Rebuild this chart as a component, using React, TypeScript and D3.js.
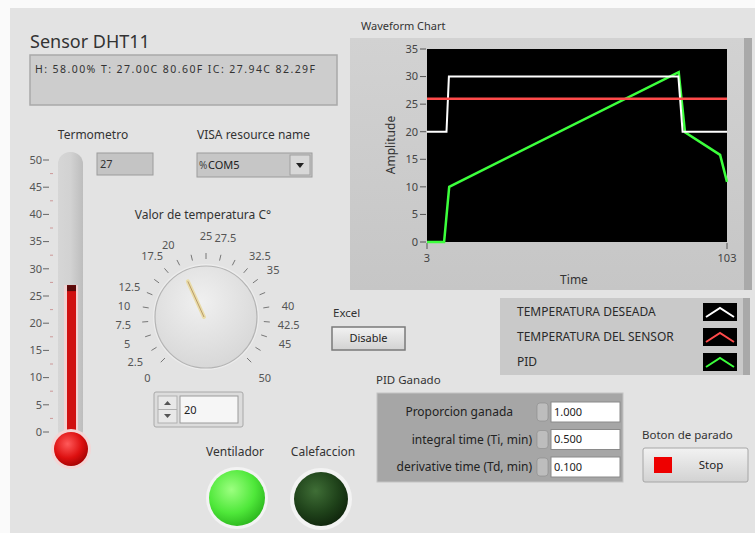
import React from "react";
import * as d3 from "d3";

// ---- data ----
const sensorText = "H: 58.00%  T: 27.00C 80.60F  IC: 27.94C 82.29F";
const thermoValue = 27;
const thermoTicks = [0, 5, 10, 15, 20, 25, 30, 35, 40, 45, 50];
const knobValue = 20;
const knobLabels = [0, 2.5, 5, 7.5, 10, 12.5, 17.5, 20, 25, 27.5, 32.5, 35, 40, 42.5, 45, 50];
const knobTicks = d3.range(0, 50.01, 2.5);

const ampTicks = [0, 5, 10, 15, 20, 25, 30, 35];
const timeTicks = [3, 103];
const desiredTime = [3, 9.5, 10.3, 86.8, 88.2, 103];
const desiredTemp = [20, 20, 30, 30, 20, 20];
const sensorTime = [3, 103];
const sensorTemp = [26, 26];
const pidTime = [3, 8.7, 10.4, 86.9, 89, 100.7, 103];
const pidOut = [0, 0, 10, 30.8, 19.9, 15.8, 10.9];

const legendNames = ["TEMPERATURA DESEADA", "TEMPERATURA DEL SENSOR", "PID"];
const legendColors = ["#ffffff", "#ff4b4b", "#3cff3c"];

const pidLabels = ["Proporcion ganada", "integral time (Ti, min)", "derivative time (Td, min)"];
const pidValues = ["1.000", "0.500", "0.100"];

const FONT = "'Noto Sans', 'Open Sans', sans-serif";
const TXT = "#333";

function Thermometer() {
  const y = d3.scaleLinear().domain([0, 50]).range([432, 160]);
  const minor = d3.range(2.5, 50, 5);
  return (
    <g>
      <text x={93} y={139} textAnchor="middle" fontSize={12} fill={TXT}>Termometro</text>
      <rect x={58} y={152} width={25} height={290} rx={12} fill="url(#tube)" />
      <rect x={64} y={y(thermoValue)} width={14} height={440 - y(thermoValue)} fill="#f2d2d2" />
      <rect x={67} y={y(thermoValue)} width={9} height={440 - y(thermoValue)} fill="#d01010" />
      <rect x={67} y={y(thermoValue)} width={9} height={6} fill="#5a0a0a" />
      <circle cx={71} cy={449} r={20} fill="#f3d6d6" />
      <circle cx={71} cy={449} r={17} fill="url(#bulb)" />
      {thermoTicks.map((t) => (
        <g key={t}>
          <text x={42} y={y(t)} dy="0.35em" textAnchor="end" fontSize={11} fill="#555">{t}</text>
          <line x1={43} x2={49} y1={y(t)} y2={y(t)} stroke="#666" />
        </g>
      ))}
      {minor.map((t) => (
        <line key={t} x1={50} x2={53} y1={y(t)} y2={y(t)} stroke="#c99" />
      ))}
    </g>
  );
}

function Knob() {
  const cx = 206, cy = 317;
  const ang = d3.scaleLinear().domain([0, 50]).range([225, -45]);
  const pt = (v: number, r: number) => {
    const a = (ang(v) * Math.PI) / 180;
    return [cx + r * Math.cos(a), cy - r * Math.sin(a)];
  };
  const [nx, ny] = pt(knobValue, 40);
  return (
    <g>
      <text x={203} y={219} textAnchor="middle" fontSize={12} fill={TXT}>Valor de temperatura C°</text>
      {knobTicks.map((t) => {
        const [x1, y1] = pt(t, 58);
        const [x2, y2] = pt(t, 64);
        return <line key={t} x1={x1} y1={y1} x2={x2} y2={y2} stroke="#777" />;
      })}
      {knobLabels.map((t) => {
        const [x, yy] = pt(t, 83);
        return (
          <text key={t} x={x} y={yy + 2} dy="0.35em" textAnchor="middle" fontSize={11} fill="#555">{t}</text>
        );
      })}
      <circle cx={cx} cy={cy} r={53} fill="#ececec" />
      <circle cx={cx} cy={cy} r={51} fill="url(#knob)" stroke="#b4b4b4" strokeWidth={1.2} />
      <line x1={cx - 2} y1={cy} x2={nx} y2={ny} stroke="#eadca8" strokeWidth={4} strokeLinecap="round" />
      <line x1={cx - 2} y1={cy} x2={nx} y2={ny} stroke="#b89a6a" strokeWidth={1} />
      {/* numeric control */}
      <rect x={154} y={392} width={89} height={35} rx={2} fill="#dcdcdc" stroke="#a8a8a8" />
      <rect x={158} y={396} width={19} height={27} fill="#e8e8e8" stroke="#b0b0b0" />
      <line x1={158} x2={177} y1={409.5} y2={409.5} stroke="#b0b0b0" />
      <path d="M164,405 L167.5,401 L171,405 Z" fill="#555" />
      <path d="M164,414 L167.5,418 L171,414 Z" fill="#555" />
      <rect x={180} y={396} width={58} height={27} fill="#f6f6f6" stroke="#9a9a9a" />
      <text x={184} y={410} dy="0.35em" fontSize={11} fill="#222">{knobValue}</text>
    </g>
  );
}

function Chart() {
  const x = d3.scaleLinear().domain([3, 103]).range([427, 727]);
  const y = d3.scaleLinear().domain([0, 35]).range([242, 49]);
  const line = d3.line<[number, number]>().x((d) => x(d[0])).y((d) => y(d[1]));
  const zip = (a: number[], b: number[]) => a.map((v, i) => [v, b[i]] as [number, number]);
  return (
    <g>
      <text x={361} y={30} fontSize={11} fill={TXT}>Waveform Chart</text>
      <rect x={350} y={38} width={402} height={252} fill="url(#frame)" />
      <rect x={744} y={38} width={8} height={252} fill="#a9a9a9" />
      <rect x={427} y={49} width={300} height={193} fill="#000" />
      {ampTicks.map((t) => (
        <g key={t}>
          <text x={418} y={y(t)} dy="0.35em" textAnchor="end" fontSize={11} fill="#444">{t}</text>
          <line x1={420} x2={426} y1={y(t)} y2={y(t)} stroke="#555" />
        </g>
      ))}
      {timeTicks.map((t) => (
        <g key={t}>
          <line x1={x(t)} x2={x(t)} y1={243} y2={249} stroke="#555" />
          <text x={x(t)} y={258} dy="0.35em" textAnchor="middle" fontSize={11} fill="#444">{t}</text>
        </g>
      ))}
      <text transform="translate(395,145) rotate(-90)" textAnchor="middle" fontSize={12} fill={TXT}>Amplitude</text>
      <text x={574} y={284} textAnchor="middle" fontSize={12} fill={TXT}>Time</text>
      <path d={line(zip(pidTime, pidOut)) || ""} fill="none" stroke={legendColors[2]} strokeWidth={2.5} />
      <path d={line(zip(desiredTime, desiredTemp)) || ""} fill="none" stroke={legendColors[0]} strokeWidth={2} />
      <path d={line(zip(sensorTime, sensorTemp)) || ""} fill="none" stroke={legendColors[1]} strokeWidth={2.5} />
    </g>
  );
}

function Legend() {
  return (
    <g>
      <rect x={500} y={298} width={250} height={77} fill="#c9c9c9" />
      <rect x={743} y={298} width={7} height={77} fill="#a9a9a9" />
      {legendNames.map((n, i) => {
        const ry = 303 + i * 25;
        return (
          <g key={n}>
            <text x={517} y={ry + 9} dy="0.35em" fontSize={12} fill="#2a2a2a">{n}</text>
            <rect x={703} y={ry} width={34} height={18} fill="#000" />
            <polyline points={`${706},${ry + 14} ${720},${ry + 5} ${734},${ry + 14}`} fill="none" stroke={legendColors[i]} strokeWidth={2} />
          </g>
        );
      })}
    </g>
  );
}

function PidBox() {
  return (
    <g>
      <text x={376} y={384} fontSize={11.5} fill={TXT}>PID Ganado</text>
      <rect x={377} y={393} width={246} height={89} fill="#a6a6a6" stroke="#c4c4c4" />
      {pidLabels.map((l, i) => {
        const ry = 402 + i * 27.5;
        return (
          <g key={l}>
            <text x={i === 0 ? 513 : 532} y={ry + 10} dy="0.35em" textAnchor="end" fontSize={12} fill="#222">{l}</text>
            <rect x={537} y={ry + 1} width={11} height={18} rx={3} fill="#bdbdbd" stroke="#8c8c8c" strokeWidth={0.6} />
            <rect x={551} y={ry} width={69} height={20} fill="#fff" stroke="#8a8a8a" />
            <text x={554} y={ry + 10} dy="0.35em" fontSize={11} fill="#222">{pidValues[i]}</text>
          </g>
        );
      })}
    </g>
  );
}

export default function App() {
  return (
    <svg width={755} height={533} style={{ position: "absolute", left: 0, top: 0 }} fontFamily={FONT}>
      <defs>
        <linearGradient id="tube" x1="0" x2="1" y1="0" y2="0">
          <stop offset="0" stopColor="#d6d6d6" />
          <stop offset="0.5" stopColor="#d2d2d2" />
          <stop offset="1" stopColor="#bdbdbd" />
        </linearGradient>
        <radialGradient id="bulb" cx="0.4" cy="0.35" r="0.7">
          <stop offset="0" stopColor="#ff5a5a" />
          <stop offset="0.6" stopColor="#dd1010" />
          <stop offset="1" stopColor="#a00000" />
        </radialGradient>
        <radialGradient id="knob" cx="0.45" cy="0.35" r="0.75">
          <stop offset="0" stopColor="#f0f0f0" />
          <stop offset="1" stopColor="#d4d4d4" />
        </radialGradient>
        <linearGradient id="frame" x1="0" x2="0" y1="0" y2="1">
          <stop offset="0" stopColor="#d2d2d2" />
          <stop offset="1" stopColor="#c6c6c6" />
        </linearGradient>
        <radialGradient id="ledOn" cx="0.4" cy="0.35" r="0.7">
          <stop offset="0" stopColor="#9cff80" />
          <stop offset="0.6" stopColor="#4fe83a" />
          <stop offset="1" stopColor="#2ab41c" />
        </radialGradient>
        <radialGradient id="ledOff" cx="0.4" cy="0.35" r="0.7">
          <stop offset="0" stopColor="#3f6e36" />
          <stop offset="0.6" stopColor="#1f421a" />
          <stop offset="1" stopColor="#0f240c" />
        </radialGradient>
        <linearGradient id="btn" x1="0" x2="0" y1="0" y2="1">
          <stop offset="0" stopColor="#f2f2f2" />
          <stop offset="1" stopColor="#d2d2d2" />
        </linearGradient>
      </defs>
      <rect width={755} height={533} fill="#fafafa" />
      <rect x={10} y={8} width={745} height={525} fill="#e3e3e3" />

      {/* sensor string */}
      <text x={30} y={48} fontSize={18} fill="#333">Sensor DHT11</text>
      <rect x={30} y={55} width={307} height={50} fill="#cdcdcd" stroke="#a9a9a9" strokeWidth={1.5} />
      <text x={35} y={69} dy="0.35em" fontSize={10.5} fill="#333" textLength={280} lengthAdjust="spacing">{sensorText}</text>

      <Thermometer />

      {/* numeric indicator */}
      <rect x={97} y={153} width={56} height={22} fill="#c4c4c4" stroke="#9c9c9c" />
      <text x={100} y={164} dy="0.35em" fontSize={11} fill="#333">{thermoValue}</text>

      {/* VISA resource */}
      <text x={197} y={139} fontSize={12} fill={TXT}>VISA resource name</text>
      <rect x={197} y={153} width={115} height={24} fill="#c6c6c6" stroke="#9c9c9c" />
      <text x={199} y={165} dy="0.35em" fontSize={10} fill="#444">%</text>
      <text x={208} y={165} dy="0.35em" fontSize={11} fill="#222">COM5</text>
      <rect x={290} y={155} width={20} height={20} fill="#d8d8d8" stroke="#a0a0a0" />
      <path d="M296,163 L304,163 L300,168 Z" fill="#222" />

      <Knob />

      {/* Excel switch */}
      <text x={333} y={317} fontSize={11.5} fill={TXT}>Excel</text>
      <rect x={332} y={327} width={73} height={23} fill="url(#btn)" stroke="#7a7a7a" strokeWidth={1.5} />
      <text x={368.5} y={338.5} dy="0.35em" textAnchor="middle" fontSize={11} fill="#222">Disable</text>

      <Chart />
      <Legend />
      <PidBox />

      {/* stop button */}
      <text x={642} y={439} fontSize={11.5} fill={TXT}>Boton de parado</text>
      <rect x={643} y={448} width={105} height={34} rx={2} fill="url(#btn)" stroke="#a6a6a6" />
      <rect x={654} y={457} width={18} height={16} fill="#ee0000" />
      <text x={711} y={465} dy="0.35em" textAnchor="middle" fontSize={11.5} fill="#222">Stop</text>

      {/* LEDs */}
      <text x={235} y={456} textAnchor="middle" fontSize={12} fill={TXT}>Ventilador</text>
      <text x={323} y={456} textAnchor="middle" fontSize={12} fill={TXT}>Calefaccion</text>
      <circle cx={237} cy={498} r={31} fill="#f3f3f3" />
      <circle cx={237} cy={498} r={28} fill="url(#ledOn)" />
      <circle cx={321} cy={499} r={31} fill="#f3f3f3" />
      <circle cx={321} cy={499} r={27} fill="url(#ledOff)" />
    </svg>
  );
}
